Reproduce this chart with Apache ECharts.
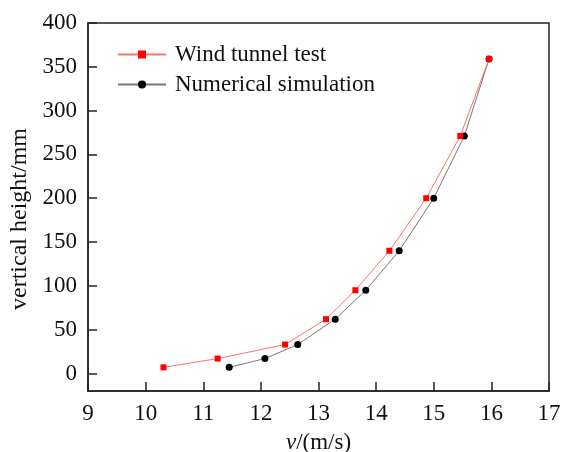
<!DOCTYPE html>
<html><head><meta charset="utf-8">
<script src="https://cdn.jsdelivr.net/npm/echarts@6/dist/echarts.min.js"></script>
<style>html,body{margin:0;padding:0;background:#fff}#c{width:561px;height:452px}</style>
</head><body><div id="c"></div>
<script>
var heights = [7, 17, 33, 62, 95, 140, 200, 271, 359];
var windTunnelV = [10.31, 11.25, 12.42, 13.13, 13.64, 14.23, 14.87, 15.46, 15.96];
var numericalV = [11.45, 12.07, 12.64, 13.29, 13.82, 14.40, 15.00, 15.53, 15.96];
var yTicks = [0, 50, 100, 150, 200, 250, 300, 350, 400];
var seriesNames = ['Wind tunnel test', 'Numerical simulation'];

function pairs(vs){ return vs.map(function(v,i){ return [v, heights[i]]; }); }
var font = '"Liberation Serif","Times New Roman",serif';
var fs = 23;
var chart = echarts.init(document.getElementById('c'), null, {renderer:'canvas'});
chart.setOption({
  animation:false,
  backgroundColor:'#fff',
  grid:{left:88, right:12, top:23, bottom:61, outerBoundsMode:'none', containLabel:false, show:true, borderColor:'#222', borderWidth:1.5, backgroundColor:'transparent'},
  legend:{
    left:112, top:38, orient:'vertical', itemGap:7, itemWidth:48, itemHeight:10,
    textStyle:{fontFamily:font, fontSize:fs, color:'#111', padding:[0,0,0,4]},
    data:seriesNames
  },
  xAxis:{
    type:'value', min:9, max:17, interval:1,
    name:'{i|v}/(m/s)', nameLocation:'middle', nameGap:40,
    nameTextStyle:{fontFamily:font, fontSize:fs, color:'#111', rich:{i:{fontFamily:font, fontSize:fs, fontStyle:'italic', color:'#111'}}},
    axisLine:{show:true, onZero:false, lineStyle:{color:'#222', width:1.5}},
    axisTick:{show:true, inside:true, length:9, lineStyle:{color:'#222', width:1.5}},
    axisLabel:{fontFamily:font, fontSize:fs, color:'#111', margin:11},
    splitLine:{show:false}
  },
  yAxis:{
    type:'value', min:-20, max:400,
    name:'vertical height/mm', nameLocation:'middle', nameGap:48, nameRotate:90,
    nameTextStyle:{fontFamily:font, fontSize:24, color:'#111', padding:[0,24,0,0]},
    axisLine:{show:true, onZero:false, lineStyle:{color:'#222', width:1.5}},
    axisTick:{show:true, inside:true, length:9, lineStyle:{color:'#222', width:1.5}, customValues:yTicks},
    axisLabel:{fontFamily:font, fontSize:fs, color:'#111', margin:11, customValues:yTicks},
    splitLine:{show:false}
  },
  series:[
    {name:seriesNames[0], type:'line', data:pairs(windTunnelV), symbol:'rect', symbolSize:6,
     lineStyle:{color:'#ff7070', width:1}, itemStyle:{color:'#ff0000'}, z:3},
    {name:seriesNames[1], type:'line', data:pairs(numericalV), symbol:'circle', symbolSize:7,
     lineStyle:{color:'#777', width:1}, itemStyle:{color:'#000'}, z:2}
  ]
});
</script></body></html>
